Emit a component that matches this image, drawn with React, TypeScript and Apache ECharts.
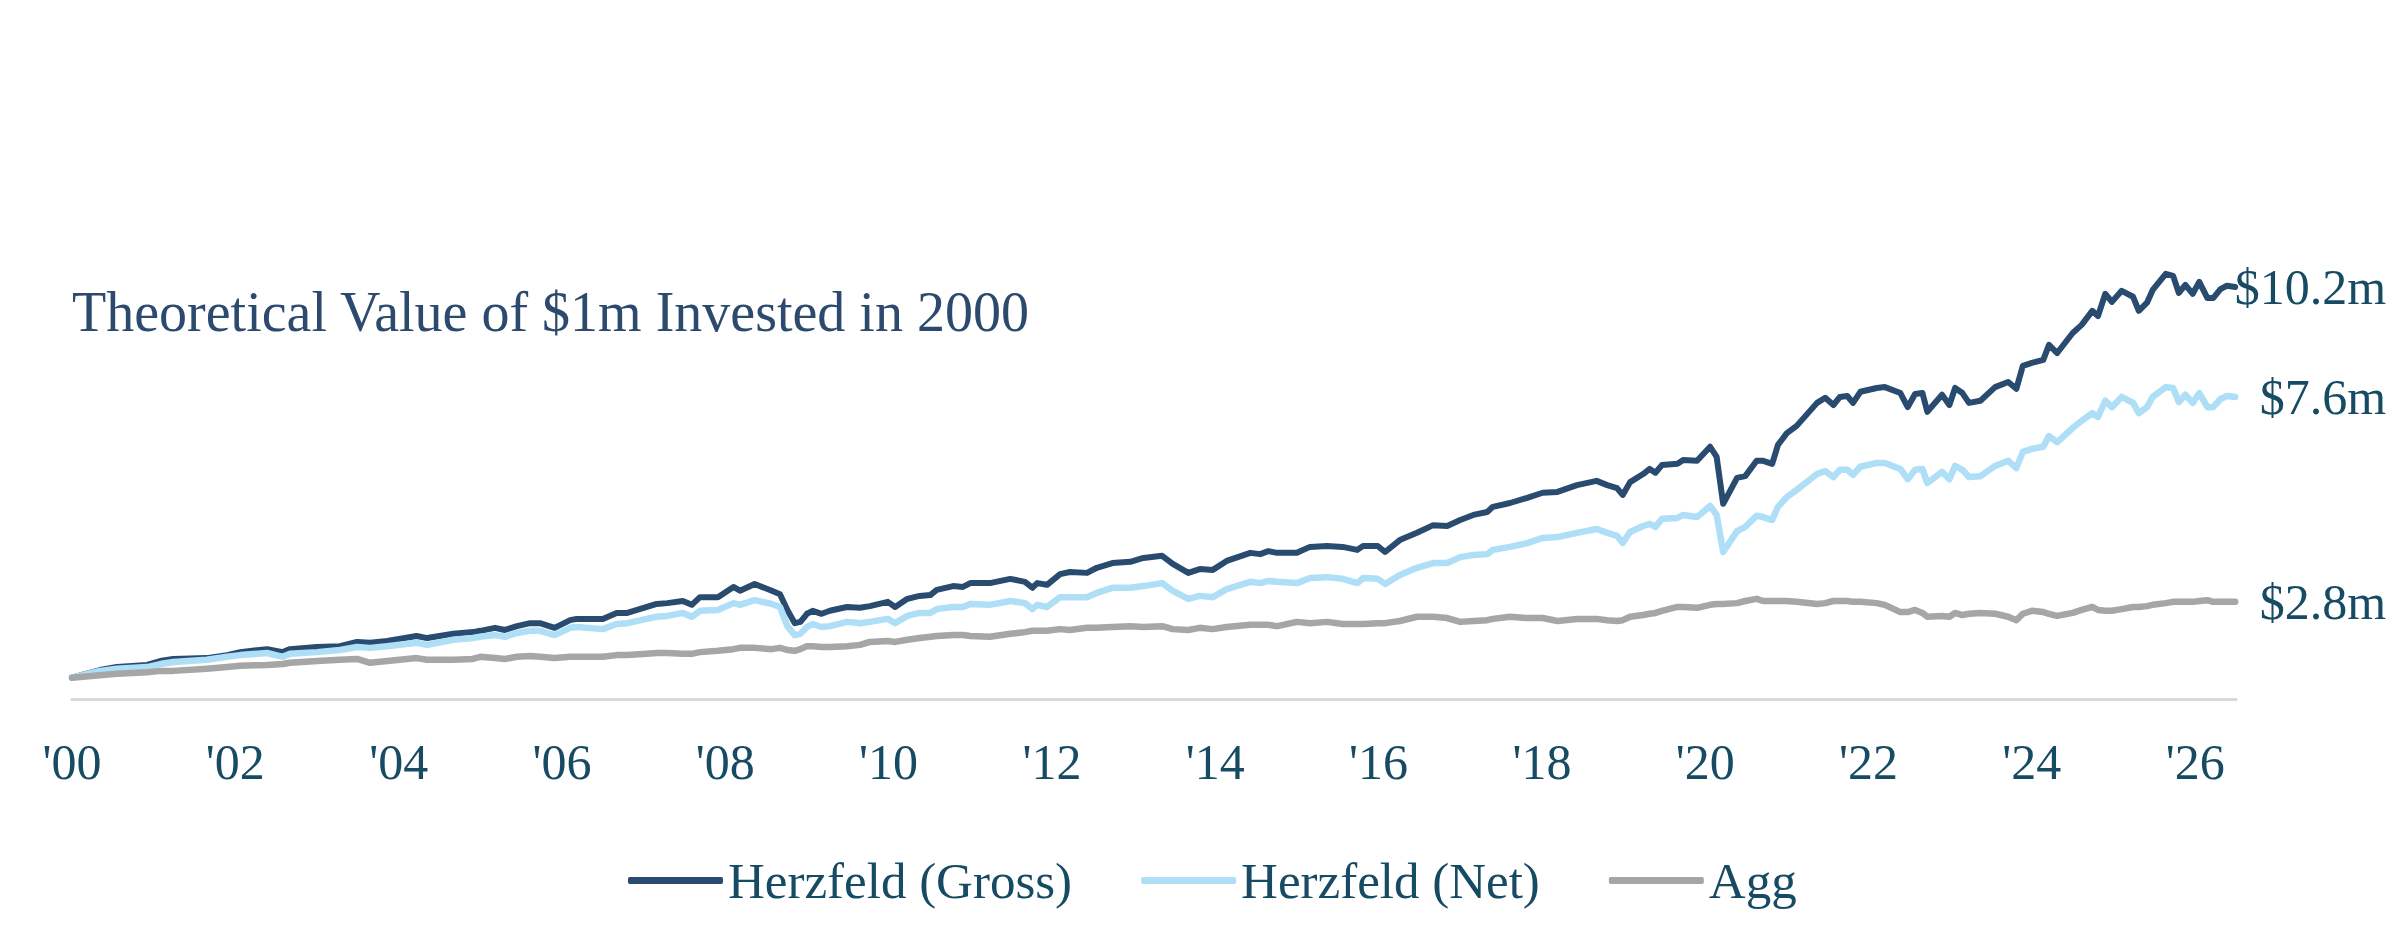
import React, { useEffect, useRef } from 'react';
import * as echarts from 'echarts';

const years = [
  2000.0, 2000.34, 2000.55, 2000.92, 2001.08, 2001.24, 2001.65, 2001.9, 2002.06, 2002.39,
  2002.58, 2002.67, 2003.0, 2003.28, 2003.49, 2003.65, 2003.86, 2004.22, 2004.35, 2004.67,
  2004.91, 2005.0, 2005.18, 2005.3, 2005.45, 2005.61, 2005.73, 2005.91, 2006.1, 2006.18,
  2006.5, 2006.67, 2006.8, 2007.04, 2007.16, 2007.29, 2007.48, 2007.59, 2007.69, 2007.91,
  2008.1, 2008.18, 2008.36, 2008.57, 2008.67, 2008.76, 2008.85, 2008.92, 2009.0, 2009.07,
  2009.18, 2009.28, 2009.49, 2009.65, 2009.77, 2009.99, 2010.08, 2010.23, 2010.38, 2010.51,
  2010.59, 2010.79, 2010.91, 2011.0, 2011.24, 2011.49, 2011.67, 2011.76, 2011.82, 2011.94,
  2012.1, 2012.22, 2012.43, 2012.55, 2012.74, 2012.96, 2013.12, 2013.35, 2013.48, 2013.67,
  2013.81, 2013.97, 2014.14, 2014.43, 2014.55, 2014.65, 2014.76, 2015.0, 2015.16, 2015.37,
  2015.56, 2015.74, 2015.81, 2015.99, 2016.08, 2016.26, 2016.47, 2016.67, 2016.84, 2017.0,
  2017.16, 2017.33, 2017.4, 2017.61, 2017.82, 2018.01, 2018.19, 2018.43, 2018.67, 2018.8,
  2018.92, 2018.99, 2019.08, 2019.24, 2019.32, 2019.39, 2019.47, 2019.66, 2019.73, 2019.9,
  2020.06, 2020.14, 2020.22, 2020.39, 2020.49, 2020.63, 2020.71, 2020.82, 2020.89, 2021.0,
  2021.12, 2021.37, 2021.47, 2021.57, 2021.65, 2021.74, 2021.81, 2021.9, 2022.1, 2022.2,
  2022.39, 2022.48, 2022.57, 2022.66, 2022.72, 2022.9, 2022.99, 2023.06, 2023.15, 2023.23,
  2023.37, 2023.55, 2023.71, 2023.81, 2023.89, 2024.0, 2024.14, 2024.21, 2024.31, 2024.5,
  2024.61, 2024.74, 2024.81, 2024.9, 2024.98, 2025.1, 2025.24, 2025.31, 2025.41, 2025.48,
  2025.64, 2025.73, 2025.8, 2025.88, 2025.97, 2026.05, 2026.15, 2026.22, 2026.31, 2026.39,
  2026.49,
];

// $m, Herzfeld gross of fees
const gross = [
  1.0, 1.18, 1.25, 1.3, 1.39, 1.44, 1.46, 1.53, 1.6, 1.67,
  1.6, 1.67, 1.72, 1.74, 1.84, 1.82, 1.86, 1.98, 1.93, 2.03,
  2.07, 2.1, 2.17, 2.12, 2.21, 2.28, 2.28, 2.17, 2.35, 2.38,
  2.38, 2.52, 2.52, 2.66, 2.73, 2.75, 2.8, 2.71, 2.89, 2.89,
  3.13, 3.04, 3.2, 3.04, 2.96, 2.59, 2.28, 2.31, 2.5, 2.57,
  2.5, 2.57, 2.66, 2.64, 2.68, 2.78, 2.66, 2.85, 2.92, 2.94,
  3.06, 3.15, 3.13, 3.22, 3.22, 3.32, 3.25, 3.11, 3.22, 3.18,
  3.43, 3.48, 3.46, 3.58, 3.69, 3.72, 3.81, 3.86, 3.67, 3.46,
  3.55, 3.53, 3.74, 3.93, 3.9, 3.97, 3.93, 3.93, 4.07, 4.09,
  4.07, 4.0, 4.09, 4.09, 3.95, 4.23, 4.4, 4.58, 4.56, 4.7,
  4.82, 4.89, 5.01, 5.1, 5.22, 5.34, 5.36, 5.52, 5.62, 5.52,
  5.45, 5.29, 5.59, 5.78, 5.9, 5.81, 5.99, 6.02, 6.11, 6.09,
  6.42, 6.18, 5.08, 5.69, 5.73, 6.09, 6.09, 6.02, 6.46, 6.74,
  6.91, 7.45, 7.57, 7.4, 7.59, 7.61, 7.45, 7.71, 7.8, 7.82,
  7.68, 7.35, 7.66, 7.68, 7.24, 7.64, 7.4, 7.8, 7.68, 7.45,
  7.5, 7.82, 7.94, 7.78, 8.32, 8.39, 8.46, 8.81, 8.62, 9.09,
  9.28, 9.61, 9.49, 10.01, 9.82, 10.08, 9.94, 9.61, 9.8, 10.1,
  10.48, 10.43, 10.03, 10.22, 10.01, 10.29, 9.91, 9.91, 10.12, 10.2,
  10.17,
];

// $m, Herzfeld net of fees
const net = [
  1.0, 1.16, 1.21, 1.25, 1.32, 1.37, 1.42, 1.49, 1.53, 1.58,
  1.49, 1.56, 1.6, 1.65, 1.72, 1.7, 1.74, 1.82, 1.77, 1.89,
  1.93, 1.96, 2.0, 1.96, 2.05, 2.1, 2.1, 2.0, 2.17, 2.19,
  2.14, 2.26, 2.28, 2.38, 2.43, 2.45, 2.52, 2.43, 2.57, 2.59,
  2.75, 2.71, 2.82, 2.73, 2.66, 2.21, 2.0, 2.03, 2.19, 2.26,
  2.19, 2.21, 2.31, 2.28, 2.31, 2.38, 2.28, 2.45, 2.52, 2.52,
  2.61, 2.66, 2.66, 2.73, 2.71, 2.8, 2.75, 2.61, 2.71, 2.66,
  2.89, 2.89, 2.89, 2.99, 3.11, 3.11, 3.15, 3.22, 3.04, 2.85,
  2.92, 2.89, 3.08, 3.25, 3.22, 3.27, 3.25, 3.22, 3.34, 3.36,
  3.32, 3.22, 3.34, 3.32, 3.2, 3.41, 3.58, 3.69, 3.69, 3.83,
  3.88, 3.9, 4.0, 4.07, 4.16, 4.28, 4.3, 4.4, 4.49, 4.4,
  4.33, 4.16, 4.42, 4.56, 4.61, 4.54, 4.73, 4.75, 4.82, 4.77,
  5.03, 4.82, 3.95, 4.44, 4.54, 4.8, 4.77, 4.7, 5.01, 5.24,
  5.41, 5.78, 5.85, 5.71, 5.88, 5.88, 5.76, 5.95, 6.04, 6.04,
  5.9, 5.66, 5.88, 5.9, 5.57, 5.83, 5.66, 5.97, 5.88, 5.71,
  5.73, 5.97, 6.09, 5.92, 6.3, 6.37, 6.42, 6.67, 6.53, 6.86,
  7.03, 7.21, 7.12, 7.5, 7.35, 7.59, 7.45, 7.21, 7.35, 7.59,
  7.82, 7.8, 7.47, 7.64, 7.45, 7.68, 7.35, 7.35, 7.54, 7.61,
  7.59,
];

// $m, bond aggregate index
const agg = [
  1.0, 1.06, 1.09, 1.13, 1.16, 1.16, 1.21, 1.25, 1.28, 1.3,
  1.32, 1.35, 1.39, 1.42, 1.44, 1.35, 1.39, 1.46, 1.42, 1.42,
  1.44, 1.49, 1.46, 1.44, 1.49, 1.51, 1.49, 1.46, 1.49, 1.49,
  1.49, 1.53, 1.53, 1.56, 1.58, 1.58, 1.56, 1.56, 1.6, 1.63,
  1.67, 1.7, 1.7, 1.67, 1.7, 1.65, 1.63, 1.67, 1.74, 1.74,
  1.72, 1.72, 1.74, 1.77, 1.84, 1.86, 1.84, 1.89, 1.93, 1.96,
  1.98, 2.0, 2.0, 1.98, 1.96, 2.03, 2.07, 2.1, 2.1, 2.1,
  2.14, 2.12, 2.17, 2.17, 2.19, 2.21, 2.19, 2.21, 2.14, 2.12,
  2.17, 2.14, 2.19, 2.24, 2.24, 2.24, 2.21, 2.31, 2.28, 2.31,
  2.26, 2.26, 2.26, 2.28, 2.28, 2.33, 2.43, 2.43, 2.4, 2.31,
  2.33, 2.35, 2.38, 2.43, 2.4, 2.4, 2.33, 2.38, 2.38, 2.35,
  2.33, 2.35, 2.43, 2.47, 2.5, 2.52, 2.57, 2.66, 2.66, 2.64,
  2.71, 2.73, 2.73, 2.75, 2.8, 2.85, 2.8, 2.8, 2.8, 2.8,
  2.78, 2.73, 2.75, 2.8, 2.8, 2.8, 2.78, 2.78, 2.75, 2.71,
  2.54, 2.54, 2.59, 2.52, 2.43, 2.45, 2.43, 2.52, 2.47, 2.5,
  2.52, 2.5, 2.43, 2.35, 2.5, 2.57, 2.54, 2.5, 2.45, 2.52,
  2.59, 2.66, 2.59, 2.57, 2.57, 2.61, 2.66, 2.66, 2.68, 2.71,
  2.75, 2.78, 2.78, 2.78, 2.78, 2.8, 2.82, 2.78, 2.78, 2.78,
  2.78,
];

const seriesNames = ['Herzfeld (Gross)', 'Herzfeld (Net)', 'Agg'];
const seriesColors = ['#294b70', '#aedff7', '#a6a6a6'];
const titleText = 'Theoretical Value of $1m Invested in 2000';

const FONT = '"Liberation Serif", "DejaVu Serif", serif';
const TEXT_COLOR = '#174b63';

const App: React.FC = () => {
  const chartRef = useRef<HTMLDivElement | null>(null);

  useEffect(() => {
    if (!chartRef.current) return;
    const chart = echarts.init(chartRef.current, undefined, { renderer: 'svg' });

    const makeSeries = (name: string, values: number[], color: string, width: number) => ({
      name,
      type: 'line' as const,
      data: years.map((y, i) => [y, values[i]]),
      showSymbol: false,
      symbol: 'none',
      color,
      lineStyle: { color, width, cap: 'round', join: 'round' },
      endLabel: {
        show: true,
        formatter: (p: any) => '$' + p.value[1].toFixed(1) + 'm',
        fontFamily: FONT,
        fontSize: 50,
        color: TEXT_COLOR,
        align: 'right',
        distance: 0,
        offset: [151, 0],
      },
      emphasis: { disabled: true },
    });

    const option: echarts.EChartsOption = {
      animation: false,
      backgroundColor: '#ffffff',
      title: {
        text: titleText,
        left: 72,
        top: 284,
        padding: 0,
        textStyle: {
          fontFamily: FONT,
          fontSize: 56,
          fontWeight: 'normal',
          color: '#2b4a6e',
        },
      },
      legend: {
        data: seriesNames,
        left: 628,
        top: 855,
        padding: 0,
        icon: 'roundRect',
        itemWidth: 95,
        itemHeight: 7,
        itemGap: 69,
        textStyle: { fontFamily: FONT, fontSize: 51, color: TEXT_COLOR },
      },
      grid: { left: 72, right: 166, top: 209, bottom: 232 },
      xAxis: {
        type: 'value',
        min: 2000,
        max: 2026.5,
        interval: 2,
        axisLine: { show: true, lineStyle: { color: '#d9d9d9', width: 3 } },
        axisTick: { show: false },
        splitLine: { show: false },
        axisLabel: {
          margin: 38,
          fontFamily: FONT,
          fontSize: 50,
          color: TEXT_COLOR,
          showMaxLabel: false,
          formatter: (v: number) => "'" + String(Math.round(v) % 100).padStart(2, '0'),
        },
      },
      yAxis: {
        type: 'value',
        min: 0.5,
        max: 12,
        show: false,
        splitLine: { show: false },
      },
      series: [
        makeSeries(seriesNames[0], gross, seriesColors[0], 6),
        makeSeries(seriesNames[1], net, seriesColors[1], 6.5),
        makeSeries(seriesNames[2], agg, seriesColors[2], 6.5),
      ] as any,
    };

    chart.setOption(option);

    return () => {
      chart.dispose();
    };
  }, []);

  return (
    <div
      ref={chartRef}
      style={{ position: 'absolute', left: 0, top: 0, width: '2402px', height: '931px' }}
    />
  );
};

export default App;
